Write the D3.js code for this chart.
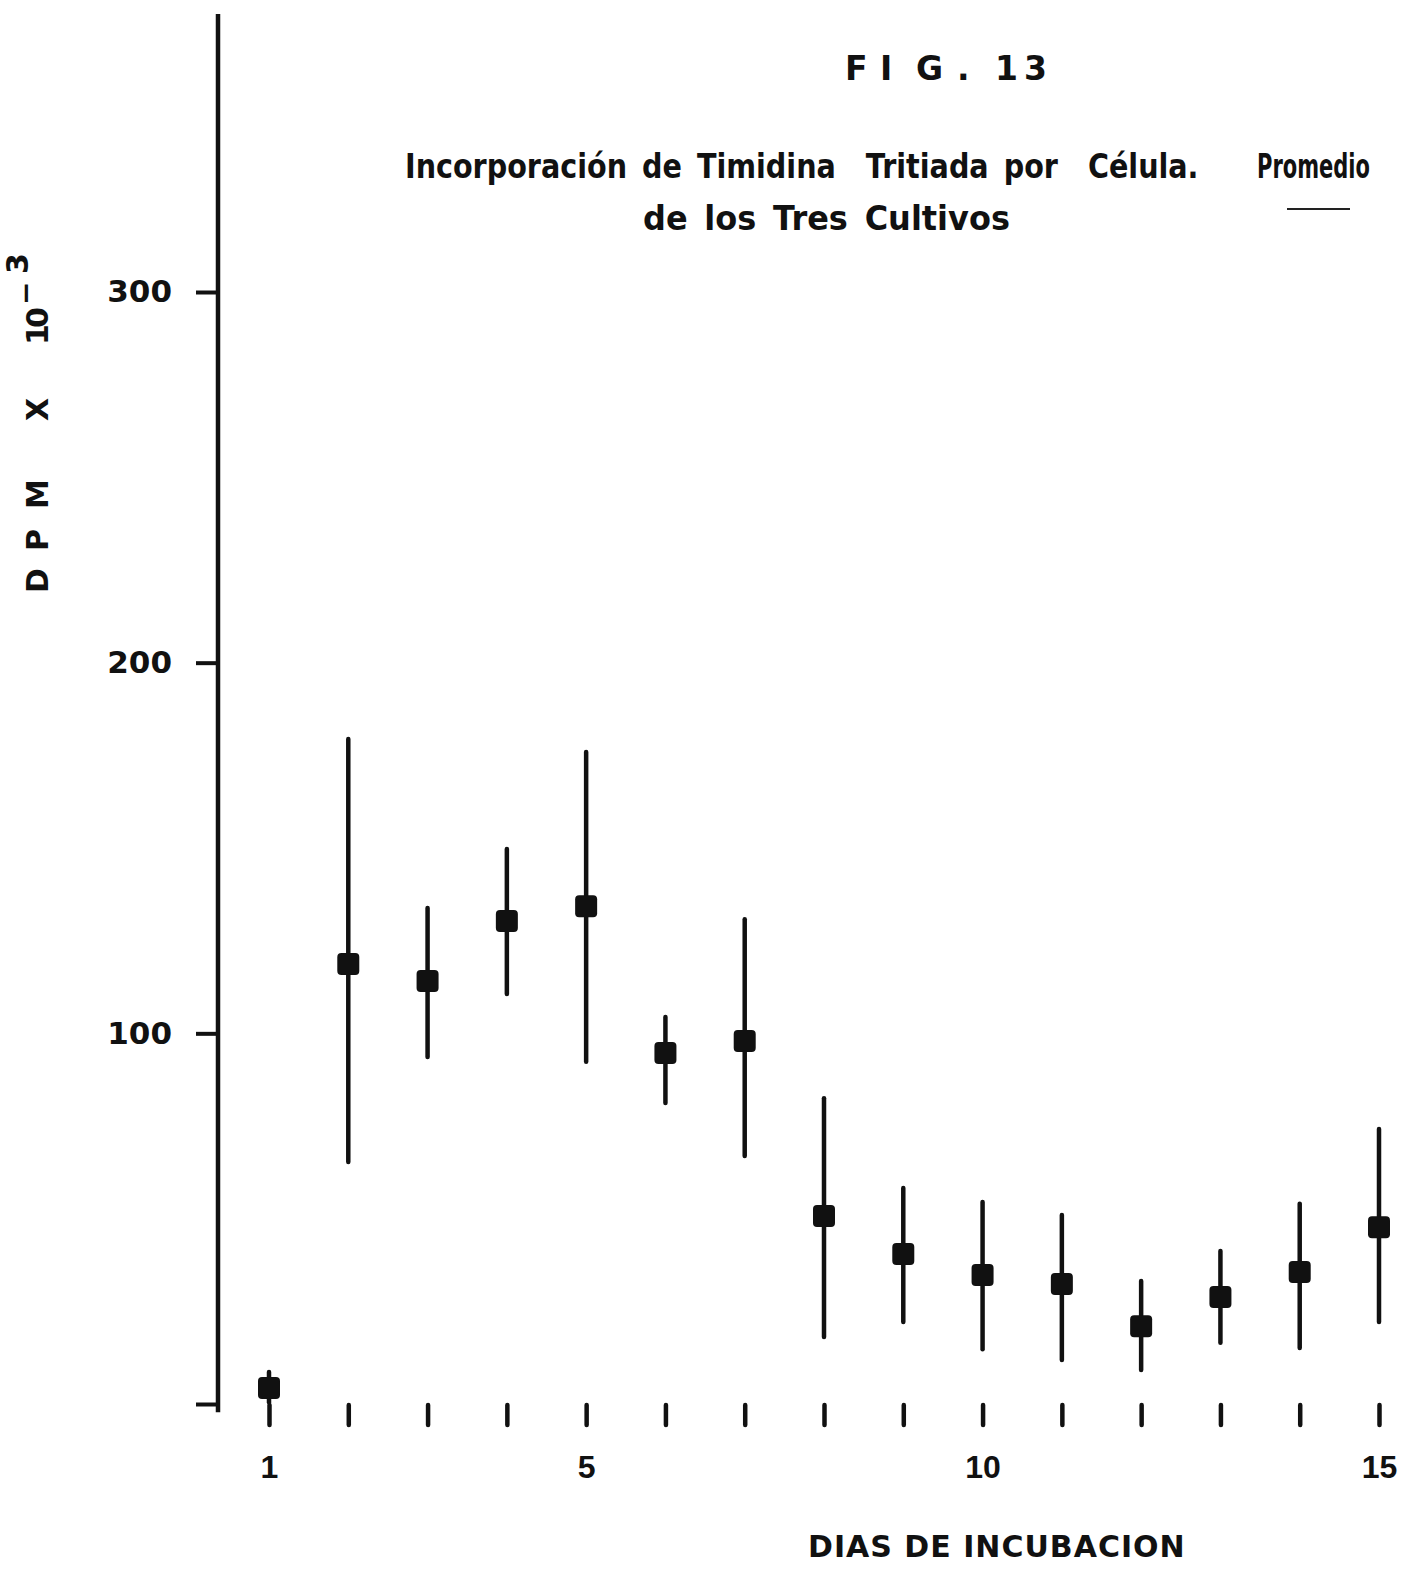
<!DOCTYPE html>
<html lang="es">
<head>
<meta charset="UTF-8">
<title>Fig. 13 - Incorporacion de Timidina Tritiada por Celula</title>
<script src="https://d3js.org/d3.v7.min.js"></script>
<style>
html, body {
  margin: 0;
  padding: 0;
  background-color: white;
}

#chart svg {
  display: block;
  background-color: white;
}

.lettering {
  font-family: 'DejaVu Sans', sans-serif;
  font-weight: bold;
  fill: #111;
  white-space: pre;
}

.y-axis text {
  font-family: 'DejaVu Sans', sans-serif;
  font-weight: bold;
  font-size: 31px;
  fill: #111;
}

.x-axis text {
  font-family: 'Liberation Sans', sans-serif;
  font-weight: bold;
  font-size: 32px;
  fill: #111;
}

.y-axis line {
  stroke: #111;
  stroke-width: 4px;
}

.x-axis line {
  stroke: #111;
  stroke-width: 4.5px;
  stroke-linecap: round;
}

.bar {
  stroke: #111;
  stroke-width: 4.5px;
  stroke-linecap: round;
}

.marker {
  fill: #111;
}
</style>
</head>

<body>
<div id="chart"></div>

<script>

// --------------------------------------
// Data
// --------------------------------------

const days = [1, 2, 3, 4, 5, 6, 7, 8, 9, 10, 11, 12, 13, 14, 15];
const means = [4.3, 118.7, 114.1, 130.3, 134.3, 94.7, 97.9, 50.7, 40.5, 34.8, 32.4, 21.0, 28.9, 35.6, 47.7];
const upper = [8.6, 179.4, 133.8, 149.7, 175.9, 104.4, 130.8, 82.5, 58.3, 54.5, 51.0, 33.2, 41.3, 54.0, 74.2];
const lower = [0.5, 65.3, 93.6, 110.6, 92.3, 81.2, 66.9, 18.1, 22.1, 14.8, 11.9, 9.2, 16.5, 15.1, 22.1];

const yTicks = [0, 100, 200, 300];
const xLabelled = [1, 5, 10, 15];

// --------------------------------------
// Size
// --------------------------------------

var totalWidth = 1411;
var totalHeight = 1569;

var svg = d3.select('#chart')
  .append("svg")
  .attr("width", totalWidth)
  .attr("height", totalHeight);

// --------------------------------------
// Scales
// --------------------------------------

let xscale = d3.scaleLinear()
  .domain([1, 15])
  .range([269, 1379]);

let yscale = d3.scaleLinear()
  .domain([0, 300])
  .range([1404, 292]);

// --------------------------------------
// Axes
// --------------------------------------

const yAxis = svg.append("g")
  .attr("class", "y-axis")
  .attr("transform", "translate(218,0)")
  .call(d3.axisLeft(yscale)
    .tickValues(yTicks)
    .tickSize(22)
    .tickPadding(24)
    .tickFormat(d => d === 0 ? "" : d));

yAxis.select(".domain").remove();

// long vertical axis line, running above the last tick as in the drawing
svg.append("line")
  .attr("x1", 218)
  .attr("x2", 218)
  .attr("y1", yscale(375))
  .attr("y2", yscale(-2.2))
  .style("stroke", "#111")
  .style("stroke-width", "4.5px");

const xAxis = svg.append("g")
  .attr("class", "x-axis")
  .attr("transform", `translate(0,${yscale(0) + 1})`)
  .call(d3.axisBottom(xscale)
    .tickValues(days)
    .tickSize(20)
    .tickPadding(30)
    .tickFormat(d => xLabelled.includes(d) ? d : ""));

xAxis.select(".domain").remove();

// --------------------------------------
// Error bars and means
// --------------------------------------

const rows = days.map((d, i) => ({day: d, mean: means[i], hi: upper[i], lo: lower[i]}));

svg.selectAll(".bar")
  .data(rows)
  .join("line")
  .attr("class", "bar")
  .attr("x1", d => xscale(d.day))
  .attr("x2", d => xscale(d.day))
  .attr("y1", d => yscale(d.hi))
  .attr("y2", d => yscale(d.lo));

var size = 22;
svg.selectAll(".marker")
  .data(rows)
  .join("rect")
  .attr("class", "marker")
  .attr("x", d => xscale(d.day) - size / 2)
  .attr("y", d => yscale(d.mean) - size / 2)
  .attr("width", size)
  .attr("height", size)
  .attr("rx", 4);

// --------------------------------------
// Titles
// --------------------------------------

// squeeze a line of lettering horizontally so it spans the given width
function fitText(txt, x, y, width, fontSize) {
  const t = svg.append("text")
    .attr("class", "lettering")
    .style("font-size", fontSize + "px")
    .style("word-spacing", "6px")
    .text(txt);
  const w = t.node().getComputedTextLength();
  t.attr("transform", `translate(${x},${y}) scale(${width / w},1)`);
  return t;
}

svg.append("text")
  .attr("class", "lettering")
  .attr("x", "845 880 916 957 995 1024")
  .attr("y", 80)
  .style("font-size", "33px")
  .text("FIG.13");

fitText("Incorporación de Timidina  Tritiada por  Célula.", 405, 178, 794, 34);
fitText("Promedio", 1257, 178, 113, 34);
fitText("de los Tres Cultivos", 643, 230, 367, 34);

svg.append("line")
  .attr("x1", 1287)
  .attr("x2", 1350)
  .attr("y1", 209)
  .attr("y2", 209)
  .style("stroke", "#222")
  .style("stroke-width", "2px");

svg.append("text")
  .attr("class", "lettering")
  .attr("x", 808)
  .attr("y", 1557)
  .style("font-size", "30px")
  .style("letter-spacing", "1px")
  .text("DIAS DE INCUBACION");

// y title, read bottom to top
const ytitle = svg.append("g")
  .attr("transform", "translate(48,593) rotate(-90)");

const yparts = [
  {t: "D", x: 0},
  {t: "P", x: 42},
  {t: "M", x: 84},
  {t: "X", x: 172},
  {t: "1", x: 248},
  {t: "0", x: 265}
];

ytitle.selectAll(".ypart")
  .data(yparts)
  .join("text")
  .attr("class", "lettering ypart")
  .attr("x", d => d.x)
  .attr("y", 0)
  .style("font-size", "30px")
  .text(d => d.t);

ytitle.append("text")
  .attr("class", "lettering")
  .attr("x", 288)
  .attr("y", -13)
  .style("font-size", "28px")
  .text("−");

ytitle.append("text")
  .attr("class", "lettering")
  .attr("x", 319)
  .attr("y", -20)
  .style("font-size", "30px")
  .text("3");

</script>
</body>
</html>
